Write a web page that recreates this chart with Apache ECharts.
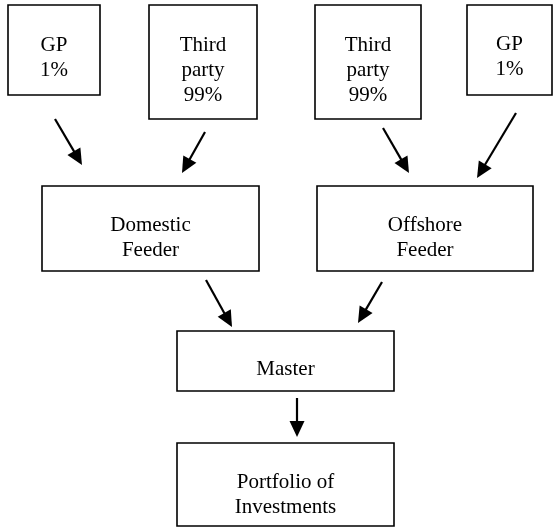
<!DOCTYPE html>
<html>
<head>
<meta charset="utf-8">
<script src="https://cdn.jsdelivr.net/npm/echarts@6/dist/echarts.min.js"></script>
<style>
html,body{margin:0;padding:0;background:#fff;}
#chart{width:553px;height:528px;}
</style>
</head>
<body>
<div id="chart"></div>
<script>
// Node labels (diagram content)
const nodeLabels = [
  'GP\n1%',
  'Third\nparty\n99%',
  'Third\nparty\n99%',
  'GP\n1%',
  'Domestic\nFeeder',
  'Offshore\nFeeder',
  'Master',
  'Portfolio of\nInvestments'
];
// Flow links: [from node, to node]
const links = [[0,4],[1,4],[2,5],[3,5],[4,6],[5,6],[6,7]];

// Layout in diagram units (x0, y0, x1, y1, text centre y)
const boxLayout = [
  [8, 5, 100, 95, 58],
  [149, 5, 257, 119, 70],
  [315, 5, 421, 119, 70],
  [467, 5, 552, 95, 57],
  [42, 186, 259, 271, 238],
  [317, 186, 533, 271, 238],
  [177, 331, 394, 391, 369],
  [177, 443, 394, 526, 495]
];
// Arrow layout: start x, start y, tip x, tip y (one per link)
const arrowLayout = [
  [55, 119, 82, 165],
  [205, 132, 182, 173],
  [383, 128, 409, 173],
  [516, 113, 477, 178],
  [206, 280, 232, 327],
  [382, 282, 358, 323],
  [297, 398, 297, 437]
];

const boxData = boxLayout.map((b, i) => [b[0], b[1], b[2], b[3], b[4], i]);
const arrowData = links.map((l, i) => arrowLayout[i].concat([l[0], l[1]]));

const chart = echarts.init(document.getElementById('chart'), null, {renderer: 'canvas'});
chart.setOption({
  animation: false,
  backgroundColor: '#ffffff',
  grid: {left: 0, right: 0, top: 0, bottom: 0},
  xAxis: {type: 'value', min: 0, max: 553, show: false},
  yAxis: {type: 'value', min: 0, max: 528, inverse: true, show: false},
  series: [
    {
      type: 'custom',
      name: 'boxes',
      encode: {x: [0, 2], y: [1, 3]},
      data: boxData,
      renderItem: function (params, api) {
        const p0 = api.coord([api.value(0), api.value(1)]);
        const p1 = api.coord([api.value(2), api.value(3)]);
        const ty = api.coord([0, api.value(4)])[1];
        const label = nodeLabels[api.value(5)];
        return {
          type: 'group',
          children: [
            {
              type: 'rect',
              shape: {x: p0[0], y: p0[1], width: p1[0] - p0[0], height: p1[1] - p0[1]},
              style: {fill: '#ffffff', stroke: '#000000', lineWidth: 1.6}
            },
            {
              type: 'text',
              style: {
                text: label,
                x: (p0[0] + p1[0]) / 2,
                y: ty,
                align: 'center',
                verticalAlign: 'middle',
                fontFamily: '"Liberation Serif", "Times New Roman", serif',
                fontSize: 21,
                lineHeight: 25,
                fill: '#000000'
              }
            }
          ]
        };
      }
    },
    {
      type: 'custom',
      name: 'arrows',
      encode: {x: [0, 2], y: [1, 3]},
      data: arrowData,
      renderItem: function (params, api) {
        const a = api.coord([api.value(0), api.value(1)]);
        const b = api.coord([api.value(2), api.value(3)]);
        const dx = b[0] - a[0], dy = b[1] - a[1];
        const len = Math.sqrt(dx * dx + dy * dy);
        const ux = dx / len, uy = dy / len;
        const nx = -uy, ny = ux;
        const L = 16, W = 15;
        const bx = b[0] - ux * L, by = b[1] - uy * L;
        return {
          type: 'group',
          children: [
            {
              type: 'line',
              shape: {x1: a[0], y1: a[1], x2: bx + ux * 2, y2: by + uy * 2},
              style: {stroke: '#000000', lineWidth: 2.2}
            },
            {
              type: 'polygon',
              shape: {points: [[b[0], b[1]], [bx + nx * W / 2, by + ny * W / 2], [bx - nx * W / 2, by - ny * W / 2]]},
              style: {fill: '#000000'}
            }
          ]
        };
      }
    }
  ]
});
</script>
</body>
</html>
